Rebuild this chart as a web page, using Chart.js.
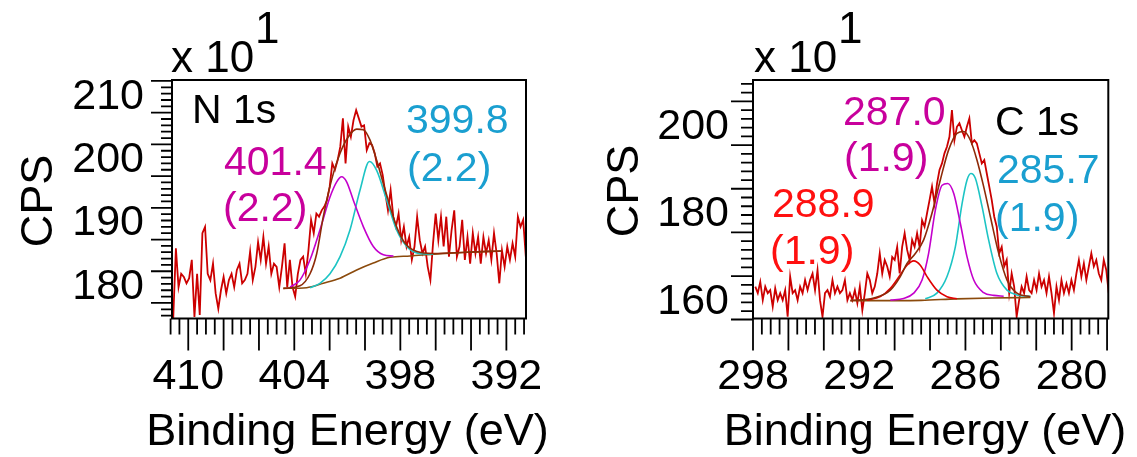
<!DOCTYPE html>
<html>
<head>
<meta charset="utf-8">
<title>XPS N 1s / C 1s</title>
<script src="https://cdn.jsdelivr.net/npm/chart.js@4.4.1/dist/chart.umd.min.js"></script>
<style>
  html, body { margin: 0; padding: 0; background: #fff; }
  #wrap { position: relative; width: 1137px; height: 457px; overflow: hidden; }
  #n1s { position: absolute; left: 0; top: 0; }
  #c1s { position: absolute; left: 580px; top: 0; }
</style>
</head>
<body>
<div id="wrap">
  <canvas id="n1s" width="580" height="457"></canvas>
  <canvas id="c1s" width="557" height="457"></canvas>
</div>
<script>
// ---- N 1s (left panel), counts in units of 10 CPS ----
// raw spectrum sampled every 0.15 eV starting at 411.0 eV
const n1sStart = 411.0;
const n1sStep = 0.15;
const n1sCps = [
  184.1, 177.6, 188.6, 182.5, 184.6, 184.1, 183.1, 183.9, 186.8, 177.8,
  184.6, 178.1, 191.0, 192.0, 184.6, 183.6, 186.2, 181.5, 179.1, 182.0,
  184.1, 181.5, 183.6, 184.6, 182.5, 185.2, 186.2, 183.1, 183.6, 184.6,
  188.1, 183.6, 185.7, 189.6, 186.8, 190.4, 186.2, 188.9, 184.6, 186.2,
  185.7, 182.5, 185.7, 189.4, 182.5, 186.8, 182.5, 181.0, 184.6, 186.8,
  187.3, 184.6, 188.3, 193.1, 191.0, 194.1, 193.6, 194.6, 195.2, 196.2,
  198.3, 202.0, 201.0, 202.5, 204.6, 209.1, 202.0, 207.8, 206.2, 208.8,
  210.4, 209.1, 207.8, 208.0, 204.1, 205.2, 204.9, 203.6, 201.5, 202.0,
  200.2, 197.3, 194.6, 197.8, 193.6, 192.0, 194.1, 189.9, 192.0, 188.9,
  190.4, 186.8, 188.9, 193.6, 189.9, 187.8, 188.9, 185.7, 183.6, 189.4,
  194.1, 189.9, 193.6, 188.9, 193.6, 187.3, 191.5, 194.6, 187.3, 188.9,
  193.1, 186.8, 190.4, 186.2, 191.0, 187.8, 190.4, 186.2, 190.4, 187.8,
  189.9, 186.8, 191.0, 187.8, 183.1, 188.3, 185.7, 188.9, 186.8, 189.4,
  187.3, 193.6, 192.0, 193.1, 187.3
];
const n1sBgE = [404.62, 403.30, 402.36, 401.41, 400.47, 399.53, 398.59, 397.45, 396.13, 394.25, 392.27];
const n1sBgCps = [182.3, 182.4, 183.1, 183.9, 185.2, 186.3, 187.2, 187.4, 187.7, 188.0, 188.2];
// component 401.4 eV
const n1sPeakAE = [404.24, 403.68, 403.11, 402.55, 401.98, 401.60, 401.32, 401.04, 400.66, 400.09, 399.53, 398.96, 398.39];
const n1sPeakACps = [182.5, 183.6, 186.8, 191.5, 196.7, 199.1, 199.9, 199.1, 196.2, 192.0, 188.9, 187.6, 187.4];
// component 399.8 eV
const n1sPeakBE = [403.11, 402.55, 401.98, 401.41, 400.85, 400.28, 399.75, 399.34, 398.77, 398.21, 397.64, 397.07, 396.13];
const n1sPeakBCps = [182.4, 183.1, 184.6, 187.3, 191.5, 197.8, 202.3, 200.9, 196.2, 191.5, 188.9, 187.9, 187.7];
// fit envelope
const n1sEnvE = [404.62, 403.68, 403.11, 402.73, 402.36, 401.89, 401.41, 400.94, 400.47, 400.09,
                 399.72, 399.34, 398.96, 398.58, 398.21, 397.73, 397.07, 396.13, 394.24, 392.26];
const n1sEnvCps = [182.3, 182.7, 184.6, 187.8, 193.6, 199.4, 203.6, 206.2, 207.4, 207.3,
                   205.7, 202.5, 198.8, 195.2, 192.0, 189.4, 188.1, 187.8, 188.0, 188.2];
const n1sXLabels = [410, 404, 398, 392];
const n1sYLabels = [180, 190, 200, 210];

// ---- C 1s (right panel) ----
const c1sStart = 297.87;
const c1sStep = 0.1406;
const c1sCps = [
  167.6, 166.1, 168.7, 164.5, 167.6, 166.1, 166.8, 163.0, 167.2, 164.5,
  166.1, 164.5, 166.8, 160.7, 169.9, 166.1, 166.8, 164.5, 167.6, 166.1,
  169.1, 166.8, 169.1, 170.6, 166.8, 171.4, 164.5, 160.7, 166.1, 166.8,
  165.3, 169.1, 166.1, 167.6, 166.1, 166.8, 169.1, 164.5, 166.1, 164.5,
  166.8, 163.8, 167.6, 162.2, 166.1, 170.6, 169.1, 166.1, 167.6, 170.6,
  175.2, 170.6, 173.7, 172.2, 169.9, 174.4, 173.7, 176.7, 170.6, 176.7,
  179.8, 176.0, 173.7, 178.3, 176.7, 179.8, 176.7, 182.8, 181.3, 184.4,
  187.4, 190.5, 186.6, 191.2, 194.3, 195.8, 198.1, 199.6, 201.9, 208.0,
  201.1, 204.2, 205.0, 203.4, 201.9, 204.2, 206.1, 200.4, 201.1, 200.4,
  198.1, 195.8, 196.6, 193.5, 190.5, 187.4, 183.6, 181.3, 175.2, 176.7,
  172.2, 173.7, 166.1, 170.6, 167.6, 160.7, 164.5, 167.6, 166.1, 169.9,
  166.8, 166.1, 169.1, 166.8, 170.6, 167.6, 169.1, 166.1, 169.9, 166.1,
  161.5, 167.6, 164.5, 169.1, 166.1, 168.3, 166.1, 169.1, 166.8, 170.6,
  173.7, 169.9, 172.9, 169.1, 172.2, 175.2, 172.2, 173.7, 170.6, 169.1,
  173.7, 171.4, 166.1
];
const c1sBgE = [292.50, 290.00, 288.50, 286.50, 284.50, 282.33];
const c1sBgCps = [164.4, 164.4, 164.45, 164.8, 165.0, 165.1];
// component 288.9 eV
const c1sPeakAE = [291.56, 290.81, 290.24, 289.68, 289.30, 288.92, 288.55, 288.17, 287.61, 287.04, 286.48];
const c1sPeakACps = [164.5, 165.3, 167.2, 170.3, 172.5, 173.5, 172.5, 169.9, 166.8, 165.3, 164.8];
// component 287.0 eV
const c1sPeakBE = [290.24, 289.49, 288.92, 288.45, 288.08, 287.70, 287.32, 287.00, 286.66, 286.29, 285.91, 285.53, 284.97, 284.40, 283.84];
const c1sPeakBCps = [164.5, 164.9, 166.1, 169.1, 175.2, 185.1, 190.8, 191.2, 188.9, 182.1, 174.4, 169.1, 166.2, 165.6, 165.4];
// component 285.7 eV
const c1sPeakCE = [288.27, 287.61, 287.04, 286.57, 286.19, 285.91, 285.69, 285.44, 285.06, 284.69, 284.22, 283.65, 283.09, 282.33];
const c1sPeakCCps = [164.8, 166.1, 169.9, 176.7, 186.6, 192.0, 193.5, 192.4, 185.9, 178.3, 170.6, 166.8, 165.7, 165.4];
const c1sEnvE = [292.50, 291.18, 290.24, 289.68, 289.30, 288.83, 288.36, 287.89, 287.42, 286.95,
                 286.48, 286.10, 285.72, 285.35, 284.97, 284.59, 284.12, 283.65, 283.09, 282.33];
const c1sEnvCps = [164.4, 165.0, 166.8, 169.9, 172.9, 175.2, 178.3, 184.4, 192.0, 198.9,
                   202.7, 203.1, 201.1, 196.6, 190.5, 183.6, 175.2, 169.1, 166.1, 165.3];
const c1sXLabels = [298, 292, 286, 280];
const c1sYLabels = [160, 180, 200];

const FONT = "'Liberation Sans', Arial, Helvetica, sans-serif";
const MAGENTA_TXT = '#c8009c';
const CYAN_TXT = '#1a9fd0';
const RED_TXT = '#ff1010';

function curve(xs, ys, color) {
  return {
    data: xs.map((x, i) => ({x: x, y: ys[i]})),
    borderColor: color, borderWidth: 1.6,
    showLine: true, pointRadius: 0, cubicInterpolationMode: 'monotone'
  };
}

function raw(start, step, ys) {
  return {
    data: ys.map((y, i) => ({x: start - i * step, y: y})),
    borderColor: '#cc0000', borderWidth: 1.8,
    showLine: true, pointRadius: 0, tension: 0
  };
}

function txt(ctx, s, x, y, color, size, align) {
  ctx.font = size + 'px ' + FONT;
  ctx.fillStyle = color;
  ctx.textAlign = align || 'left';
  ctx.textBaseline = 'alphabetic';
  ctx.fillText(s, x, y);
}

// frame, tick marks and text labels on top of the plot
function decorations(p) {
  return {
    id: 'decor',
    afterDraw(chart) {
      const ctx = chart.ctx;
      const a = chart.chartArea;
      const xs = chart.scales.x, ys = chart.scales.y;
      ctx.save();
      ctx.strokeStyle = '#000';
      ctx.lineWidth = 2;
      ctx.strokeRect(a.left, a.top, a.right - a.left, a.bottom - a.top);

      ctx.lineWidth = 1.8;
      ctx.beginPath();
      for (let k = Math.ceil(xs.min * 2); k <= Math.floor(xs.max * 2 + 0.2); k++) {
        const px = xs.getPixelForValue(k / 2);
        const len = (k % 4 === 0) ? 32 : 16;
        ctx.moveTo(px, a.bottom);
        ctx.lineTo(px, a.bottom + len);
      }
      for (let v = Math.ceil(ys.min / p.yMinor - 0.2) * p.yMinor; v <= ys.max; v += p.yMinor) {
        const py = Math.min(ys.getPixelForValue(v), a.bottom + 1);
        const len = (v % p.yMajor === 0) ? p.yLong : p.yShort;
        ctx.moveTo(a.left, py);
        ctx.lineTo(a.left - len, py);
      }
      ctx.stroke();

      txt(ctx, 'x 10', p.expX, 72, '#000', 44);
      txt(ctx, '1', p.expX + 84, 43, '#000', 44);
      txt(ctx, 'Binding Energy (eV)', p.titleX, 445, '#000', 45, 'center');
      ctx.save();
      ctx.translate(p.cpsX, p.cpsY);
      ctx.rotate(-Math.PI / 2);
      txt(ctx, 'CPS', 0, 0, '#000', 45, 'center');
      ctx.restore();
      p.notes.forEach(n => txt(ctx, n[0], n[1], n[2], n[3], 41));
      ctx.restore();
    }
  };
}

function makePanel(id, p) {
  return new Chart(document.getElementById(id), {
    type: 'scatter',
    data: {datasets: p.datasets},
    options: {
      responsive: false,
      animation: false,
      devicePixelRatio: 1,
      layout: {padding: {left: 0, top: 80, right: p.padRight, bottom: 0}},
      plugins: {legend: {display: false}, tooltip: {enabled: false}},
      scales: {
        x: {
          type: 'linear', reverse: true, min: p.xMin, max: p.xMax,
          grid: {display: false, drawTicks: false}, border: {display: false},
          afterBuildTicks: s => { s.ticks = p.xLabels.map(v => ({value: v})); },
          afterFit: s => { s.height = 138.5; s.paddingLeft = 0; s.paddingRight = 0; },
          ticks: {autoSkip: false, maxRotation: 0, padding: 33, color: '#000',
                  font: {family: FONT, size: 43}}
        },
        y: {
          type: 'linear', min: p.yMin, max: p.yMax,
          grid: {display: false, drawTicks: false}, border: {display: false},
          afterBuildTicks: s => { s.ticks = p.yLabels.map(v => ({value: v})); },
          afterFit: s => { s.width = p.yWidth; s.paddingTop = 0; s.paddingBottom = 0; },
          ticks: {autoSkip: false, padding: p.yPad, labelOffset: p.yLabelOffset, color: '#000',
                  font: {family: FONT, size: 43}}
        }
      }
    },
    plugins: [decorations(p)]
  });
}

makePanel('n1s', {
  datasets: [
    curve(n1sEnvE, n1sEnvCps, '#8e2a08'),
    curve(n1sPeakAE, n1sPeakACps, '#c400cc'),
    curve(n1sPeakBE, n1sPeakBCps, '#1cc4c4'),
    curve(n1sBgE, n1sBgCps, '#8b4a0c'),
    raw(n1sStart, n1sStep, n1sCps)
  ],
  xMin: 390.89, xMax: 410.92, yMin: 177.55, yMax: 215.15,
  xLabels: n1sXLabels, yLabels: n1sYLabels,
  padRight: 54, yWidth: 172, yPad: 28, yLabelOffset: -16,
  yMinor: 1, yMajor: 5, yLong: 21, yShort: 11,
  expX: 171, titleX: 347.5, cpsX: 52, cpsY: 201,
  notes: [
    ['N 1s', 192, 123, '#000'],
    ['399.8', 406, 133, CYAN_TXT],
    ['(2.2)', 407, 181, CYAN_TXT],
    ['401.4', 224, 175, MAGENTA_TXT],
    ['(2.2)', 223, 221, MAGENTA_TXT]
  ]
});

makePanel('c1s', {
  datasets: [
    curve(c1sEnvE, c1sEnvCps, '#8e2a08'),
    curve(c1sPeakAE, c1sPeakACps, '#e00000'),
    curve(c1sPeakBE, c1sPeakBCps, '#c400cc'),
    curve(c1sPeakCE, c1sPeakCCps, '#1cc4c4'),
    curve(c1sBgE, c1sBgCps, '#8b4a0c'),
    raw(c1sStart, c1sStep, c1sCps)
  ],
  xMin: 277.93, xMax: 298.0, yMin: 160.3, yMax: 214.9,
  xLabels: c1sXLabels, yLabels: c1sYLabels,
  padRight: 28.7, yWidth: 173, yPad: 24, yLabelOffset: -18,
  yMinor: 2, yMajor: 10, yLong: 22, yShort: 12,
  expX: 174, titleX: 345, cpsX: 58, cpsY: 191,
  notes: [
    ['287.0', 263, 125, MAGENTA_TXT],
    ['(1.9)', 264, 171, MAGENTA_TXT],
    ['C 1s', 415, 135, '#000'],
    ['285.7', 417, 183, CYAN_TXT],
    ['(1.9)', 415, 231, CYAN_TXT],
    ['288.9', 192, 217, RED_TXT],
    ['(1.9)', 190, 264, RED_TXT]
  ]
});
</script>
</body>
</html>
